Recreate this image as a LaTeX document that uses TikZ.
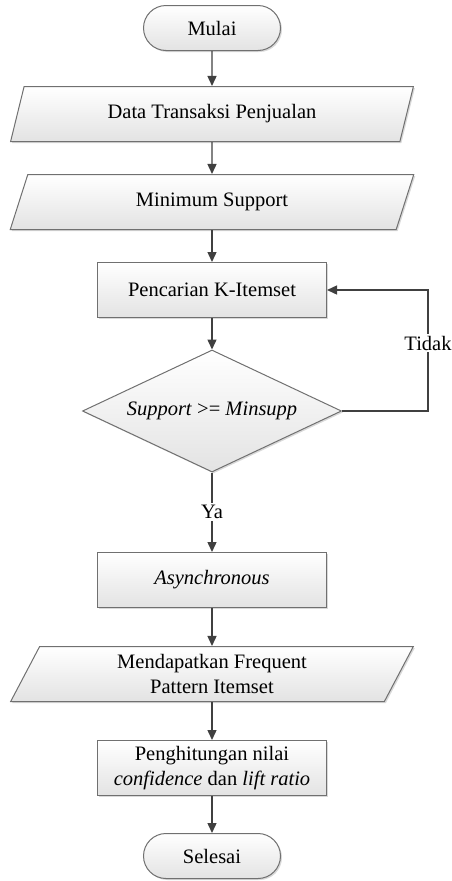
\documentclass[tikz,border=0pt]{standalone}
\usepackage{fontspec}
\setmainfont{Liberation Serif}
\usetikzlibrary{shapes.geometric, shapes.misc, arrows.meta, shadows}
\definecolor{linegray}{HTML}{404040}
\definecolor{bordergray}{HTML}{707070}

\begin{document}
\begin{tikzpicture}
[every node/.style={inner sep=0pt, align=center, font=\fontsize{20.5}{25}\selectfont},
 box/.style={draw=bordergray, line width=1pt, top color=white, bottom color=gray!22,
   drop shadow={opacity=0.3, shadow xshift=1.5pt, shadow yshift=-1.5pt}},
 terminal/.style={box, rounded rectangle, minimum width=137pt, minimum height=45pt},
 proses/.style={box, rectangle, minimum width=229pt, minimum height=55pt},
 datain/.style={box, trapezium, trapezium left angle=68, trapezium right angle=112,
   trapezium stretches=true, minimum width=404pt, minimum height=55pt},
 keputusan/.style={box, diamond, aspect=2.12, minimum width=259pt, minimum height=122pt},
 panah/.style={line width=1.4pt, draw=linegray, -{Triangle[length=10pt, width=9pt]}},
 teks/.style={fill=white, inner sep=2pt}]
\useasboundingbox (0pt, 0pt) rectangle (451pt, -881pt);
\node (mulai) [terminal] at (212pt, -28pt) {Mulai};
\node (data) [datain] at (212pt, -114pt) {Data Transaksi Penjualan};
\node (minsup) [datain] at (212pt, -202pt) {Minimum Support};
\node (cari) [proses] at (212pt, -290pt) {Pencarian K-Itemset};
\node (cek) [keputusan] at (212pt, -411pt) {\textit{Support} >= \textit{Minsupp}};
\node (async) [proses] at (212pt, -580pt) {\textit{Asynchronous}};
\node (freq) [datain] at (212pt, -674pt) {Mendapatkan Frequent\\Pattern Itemset};
\node (hitung) [proses] at (212pt, -768pt) {Penghitungan nilai\\\textit{confidence} dan \textit{lift ratio}};
\node (selesai) [terminal] at (212pt, -856pt) {Selesai};
\coordinate (kanan) at (428pt, -290pt);
\draw [panah] (mulai) -- (data);
\draw [panah] (data) -- (minsup);
\draw [panah] (minsup) -- (cari);
\draw [panah] (cari) -- (cek);
\draw [panah] (cek.east) -| node [teks, pos=0.78] (tidak) {Tidak} (kanan) -- (cari.east);
\draw [panah] (cek.south) -- node [teks] (ya) {Ya} (async.north);
\draw [panah] (async) -- (freq);
\draw [panah] (freq) -- (hitung);
\draw [panah] (hitung) -- (selesai);
\end{tikzpicture}
\end{document}
